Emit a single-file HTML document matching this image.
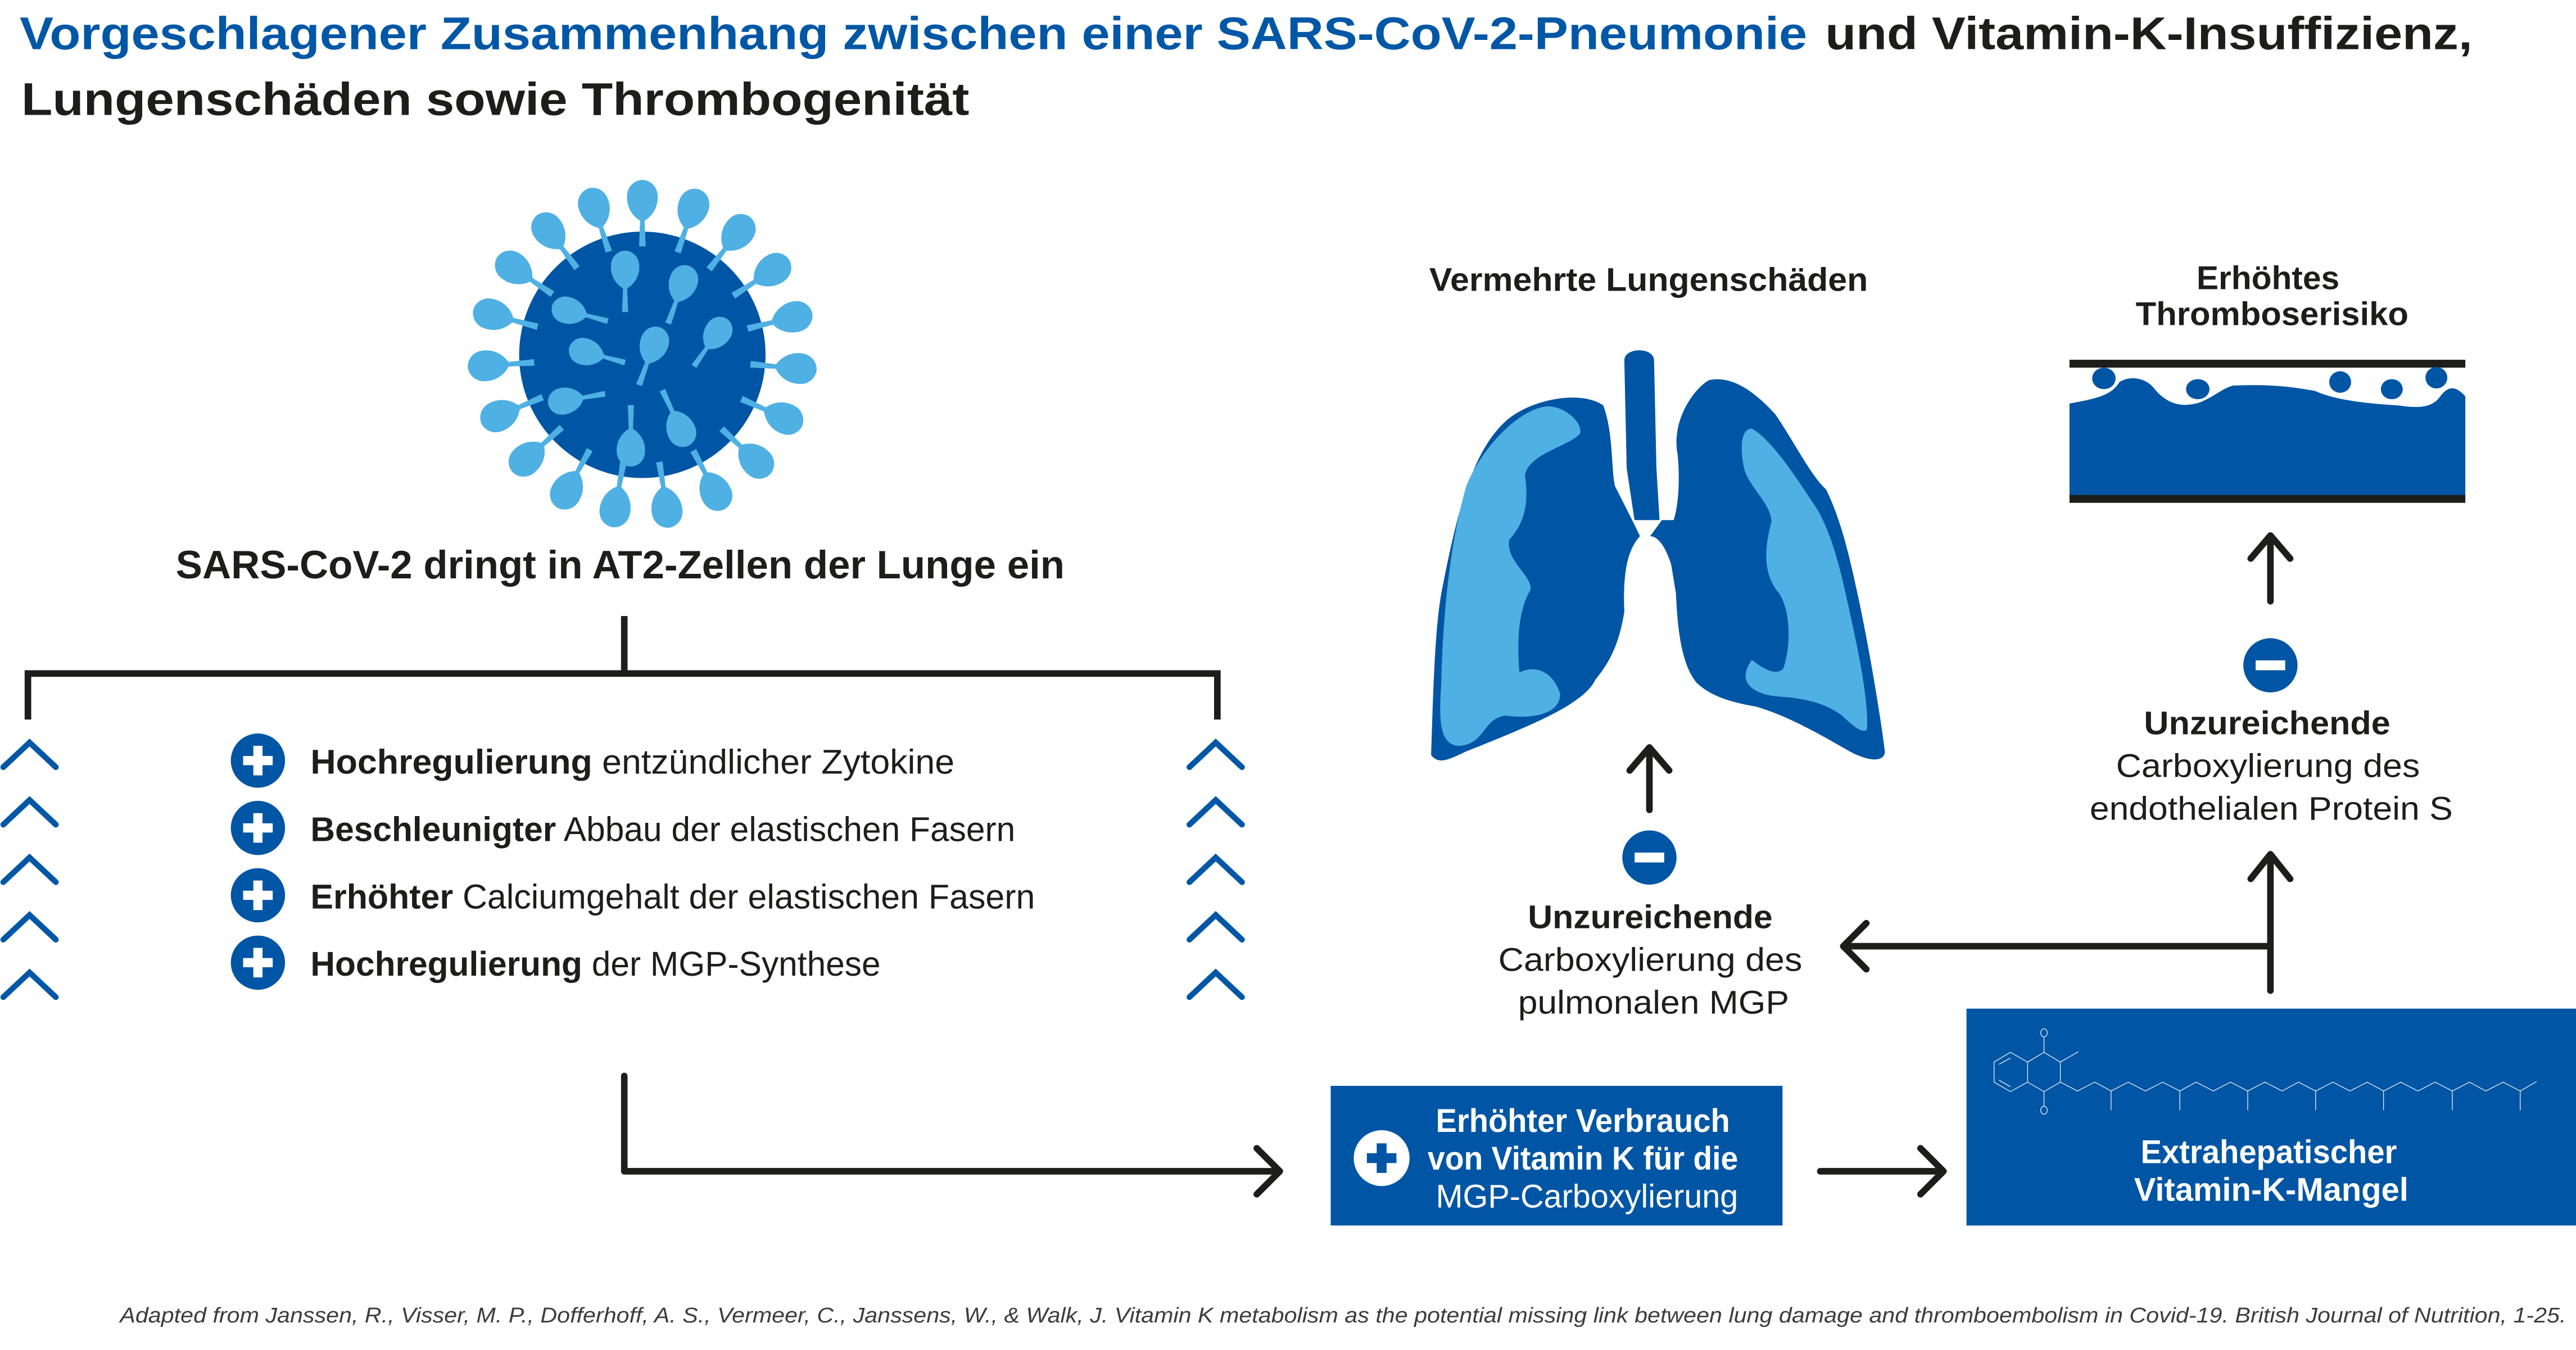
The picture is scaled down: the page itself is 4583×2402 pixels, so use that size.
<!DOCTYPE html>
<html><head><meta charset="utf-8"><style>
html,body{margin:0;padding:0;background:#fff;}
svg{display:block;}
text{font-family:"Liberation Sans",sans-serif;}
</style></head><body>
<svg width="4583" height="2402" viewBox="0 0 1568 821.8" preserveAspectRatio="none" xmlns="http://www.w3.org/2000/svg">
<defs>
<path id="sp" d="M-2.2,0 L-1.5,-17 C-8,-21 -11,-28 -10,-35 C-9,-41 -4,-44 0,-44 C4,-44 9,-41 10,-35 C11,-28 8,-21 1.5,-17 L2.2,0 Z" fill="#4fb0e4"/>
<g id="plus"><rect x="-2.8" y="-9" width="5.6" height="18" fill="#fff"/><rect x="-9" y="-2.8" width="18" height="5.6" fill="#fff"/></g>
</defs>
<rect width="1568" height="821.8" fill="#fff"/>

<text x="12" y="30" font-size="28" font-weight="bold" fill="#0057a6" textLength="1088" lengthAdjust="spacingAndGlyphs">Vorgeschlagener Zusammenhang zwischen einer SARS-CoV-2-Pneumonie</text>
<text x="1111" y="30" font-size="28" font-weight="bold" fill="#1d1d1b" textLength="394" lengthAdjust="spacingAndGlyphs">und Vitamin-K-Insuffizienz,</text>
<text x="13" y="70" font-size="28" font-weight="bold" fill="#1d1d1b" textLength="577" lengthAdjust="spacingAndGlyphs">Lungenschäden sowie Thrombogenität</text>

<g id="virus">
<circle cx="391" cy="216" r="75" fill="#0055a4"/>
<g transform="translate(391,216)">
<g transform="rotate(0) translate(0,-66) scale(0.92)"><use href="#sp"/></g>
<g transform="rotate(19) translate(0,-66) scale(0.92)"><use href="#sp"/></g>
<g transform="rotate(38) translate(0,-66) scale(0.92)"><use href="#sp"/></g>
<g transform="rotate(57) translate(0,-66) scale(0.92)"><use href="#sp"/></g>
<g transform="rotate(76) translate(0,-66) scale(0.92)"><use href="#sp"/></g>
<g transform="rotate(95) translate(0,-66) scale(0.92)"><use href="#sp"/></g>
<g transform="rotate(114) translate(0,-66) scale(0.92)"><use href="#sp"/></g>
<g transform="rotate(133) translate(0,-66) scale(0.92)"><use href="#sp"/></g>
<g transform="rotate(152) translate(0,-66) scale(0.92)"><use href="#sp"/></g>
<g transform="rotate(171) translate(0,-66) scale(0.92)"><use href="#sp"/></g>
<g transform="rotate(190) translate(0,-66) scale(0.92)"><use href="#sp"/></g>
<g transform="rotate(209) translate(0,-66) scale(0.92)"><use href="#sp"/></g>
<g transform="rotate(228) translate(0,-66) scale(0.92)"><use href="#sp"/></g>
<g transform="rotate(247) translate(0,-66) scale(0.92)"><use href="#sp"/></g>
<g transform="rotate(266) translate(0,-66) scale(0.92)"><use href="#sp"/></g>
<g transform="rotate(285) translate(0,-66) scale(0.92)"><use href="#sp"/></g>
<g transform="rotate(304) translate(0,-66) scale(0.92)"><use href="#sp"/></g>
<g transform="rotate(323) translate(0,-66) scale(0.92)"><use href="#sp"/></g>
<g transform="rotate(342) translate(0,-66) scale(0.92)"><use href="#sp"/></g>
</g>
<g transform="translate(380.5,190) rotate(0) scale(0.85)"><use href="#sp"/></g>
<g transform="translate(406.7,197) rotate(20) scale(0.85)"><use href="#sp"/></g>
<g transform="translate(370,195.5) rotate(-75) scale(0.8)"><use href="#sp"/></g>
<g transform="translate(380.5,220.7) rotate(-75) scale(0.8)"><use href="#sp"/></g>
<g transform="translate(389,234.4) rotate(20) scale(0.85)"><use href="#sp"/></g>
<g transform="translate(422.4,223) rotate(35) scale(0.8)"><use href="#sp"/></g>
<g transform="translate(368.3,239.7) rotate(-100) scale(0.8)"><use href="#sp"/></g>
<g transform="translate(384,246.6) rotate(180) scale(0.85)"><use href="#sp"/></g>
<g transform="translate(403.2,237.5) rotate(155) scale(0.85)"><use href="#sp"/></g>
</g>

<text x="107" y="352" font-size="24" font-weight="bold" fill="#1d1d1b" textLength="541" lengthAdjust="spacingAndGlyphs">SARS-CoV-2 dringt in AT2-Zellen der Lunge ein</text>

<g stroke="#1d1d1b" stroke-width="4" fill="none">
<path d="M380,375 V410 M17,438 V410 H741 V438"/>
</g>

<g stroke="#0057a6" stroke-width="3.5" fill="none" stroke-linecap="round">
<polyline points="2,467 18,452 34,467"/><polyline points="2,502 18,487 34,502"/><polyline points="2,537 18,522 34,537"/><polyline points="2,572 18,557 34,572"/><polyline points="2,607 18,592 34,607"/>
<polyline points="724,467 740,452 756,467"/><polyline points="724,502 740,487 756,502"/><polyline points="724,537 740,522 756,537"/><polyline points="724,572 740,557 756,572"/><polyline points="724,607 740,592 756,607"/>
</g>

<g>
<circle cx="157" cy="463" r="16.5" fill="#0055a4"/><use href="#plus" x="157" y="463"/>
<circle cx="157" cy="504" r="16.5" fill="#0055a4"/><use href="#plus" x="157" y="504"/>
<circle cx="157" cy="545" r="16.5" fill="#0055a4"/><use href="#plus" x="157" y="545"/>
<circle cx="157" cy="586" r="16.5" fill="#0055a4"/><use href="#plus" x="157" y="586"/>
</g>
<g font-size="21" fill="#1d1d1b">
<text x="189" y="471" textLength="392" lengthAdjust="spacingAndGlyphs"><tspan font-weight="bold">Hochregulierung</tspan> entzündlicher Zytokine</text>
<text x="189" y="512" textLength="429" lengthAdjust="spacingAndGlyphs"><tspan font-weight="bold">Beschleunigter</tspan> Abbau der elastischen Fasern</text>
<text x="189" y="553" textLength="441" lengthAdjust="spacingAndGlyphs"><tspan font-weight="bold">Erhöhter</tspan> Calciumgehalt der elastischen Fasern</text>
<text x="189" y="594" textLength="347" lengthAdjust="spacingAndGlyphs"><tspan font-weight="bold">Hochregulierung</tspan> der MGP-Synthese</text>
</g>

<text x="870" y="177" font-size="20" font-weight="bold" fill="#1d1d1b" textLength="267" lengthAdjust="spacingAndGlyphs">Vermehrte Lungenschäden</text>
<g transform="translate(821.1,153.95) scale(0.4762,0.2183)">
<path fill="#0055a4" d="M325,425 C338,500 335,600 340,650 L362,745 L372,790 C355,830 350,900 352,1000 C345,1100 330,1150 315,1190 C300,1260 230,1320 150,1390 C130,1410 115,1430 105,1400 C108,1200 110,1050 118,950 C140,700 160,550 200,470 C230,410 295,380 325,425 Z"/>
<path fill="#0055a4" d="M420,560 C412,470 440,380 460,355 C490,340 520,390 545,450 C570,530 590,620 610,660 C630,750 640,850 650,950 C665,1100 680,1300 685,1390 C685,1420 665,1420 640,1390 C600,1340 560,1290 520,1265 C480,1250 460,1230 445,1200 C425,1150 420,1050 418,950 L412,870 C405,820 395,790 385,790 L400,745 L415,745 C422,700 423,620 420,560 Z"/>
<path fill="#0055a4" d="M352,300 C352,262 390,262 390,300 L393,600 L397,745 L365,745 L355,600 Z"/>
<path fill="#4fb0e4" d="M255,428 C280,430 300,480 295,505 C280,540 230,560 225,620 C230,700 225,750 205,800 C200,860 235,900 232,940 C215,1000 215,1100 218,1170 C235,1150 260,1160 270,1230 C270,1290 230,1300 200,1290 C170,1300 175,1370 140,1375 C115,1370 115,1300 118,1200 C120,1000 130,800 150,650 C170,540 220,430 255,428 Z"/>
<path fill="#4fb0e4" d="M515,490 C540,520 570,620 600,720 C620,800 630,900 640,1000 C650,1100 665,1250 662,1330 C655,1340 645,1320 630,1290 C600,1240 560,1240 540,1235 C505,1220 500,1180 515,1135 C530,1160 545,1180 555,1160 C565,1100 565,1000 550,950 C530,900 530,830 540,750 C540,700 510,650 505,600 C500,550 500,490 515,490 Z"/>
<rect x="921" y="298" width="506" height="22" fill="#1d1d1b"/>
<path fill="#0055a4" d="M921,420 C960,405 975,395 985,360 C1000,340 1020,350 1030,380 C1045,420 1065,435 1090,415 C1110,395 1115,380 1130,370 C1180,365 1210,375 1235,385 C1260,410 1300,420 1340,425 C1370,435 1385,430 1395,400 C1405,370 1415,370 1427,400 L1427,676 L921,676 Z"/>
<ellipse cx="965" cy="350" rx="15" ry="30" fill="#0055a4"/>
<ellipse cx="1085" cy="380" rx="15" ry="28" fill="#0055a4"/>
<ellipse cx="1267" cy="360" rx="14" ry="30" fill="#0055a4"/>
<ellipse cx="1333" cy="380" rx="14" ry="28" fill="#0055a4"/>
<ellipse cx="1390" cy="348" rx="14" ry="30" fill="#0055a4"/>
<rect x="921" y="675" width="506" height="22" fill="#1d1d1b"/>
</g>

<text x="1337" y="176" font-size="20" font-weight="bold" fill="#1d1d1b" textLength="87" lengthAdjust="spacingAndGlyphs">Erhöhtes</text>
<text x="1300" y="198" font-size="20" font-weight="bold" fill="#1d1d1b" textLength="166" lengthAdjust="spacingAndGlyphs">Thromboserisiko</text>

<g stroke="#1d1d1b" stroke-width="4" fill="none" stroke-linecap="round" stroke-linejoin="round">
<path d="M1382,366 V327 M1370,340 L1382,326 L1394,340"/>
<path d="M1004,493 V456 M992,469 L1004,455 L1016,469"/>
<path d="M1382,603 V521 M1370,535 L1382,520 L1394,535"/>
<path d="M1382,576 H1123 M1136,562 L1122,576 L1136,590"/>
<path d="M380,655 V713 H778 M765,699 L779,713 L765,727"/>
<path d="M1108,713 H1182 M1169,699 L1183,713 L1169,727"/>
</g>

<circle cx="1382" cy="405" r="16.5" fill="#0055a4"/><rect x="1373" y="402" width="18" height="6" fill="#fff"/>
<circle cx="1004" cy="522" r="16.5" fill="#0055a4"/><rect x="995" y="519" width="18" height="6" fill="#fff"/>

<g font-size="20" fill="#1d1d1b">
<text x="1305" y="447" font-weight="bold" textLength="150" lengthAdjust="spacingAndGlyphs">Unzureichende</text>
<text x="1288" y="473" textLength="185" lengthAdjust="spacingAndGlyphs">Carboxylierung des</text>
<text x="1272" y="499" textLength="221" lengthAdjust="spacingAndGlyphs">endothelialen Protein S</text>
<text x="930" y="565" font-weight="bold" textLength="149" lengthAdjust="spacingAndGlyphs">Unzureichende</text>
<text x="912" y="591" textLength="185" lengthAdjust="spacingAndGlyphs">Carboxylierung des</text>
<text x="924" y="617" textLength="165" lengthAdjust="spacingAndGlyphs">pulmonalen MGP</text>
</g>

<rect x="810" y="661" width="275" height="85" fill="#0055a4"/>
<circle cx="841" cy="705" r="17" fill="#fff"/>
<rect x="838" y="696" width="6" height="18" fill="#0055a4"/><rect x="832" y="702" width="18" height="6" fill="#0055a4"/>
<g font-size="20" fill="#fff">
<text x="874" y="689" font-weight="bold" textLength="179" lengthAdjust="spacingAndGlyphs">Erhöhter Verbrauch</text>
<text x="869" y="712" font-weight="bold" textLength="189" lengthAdjust="spacingAndGlyphs">von Vitamin K für die</text>
<text x="874" y="735" textLength="184" lengthAdjust="spacingAndGlyphs">MGP-Carboxylierung</text>
</g>

<rect x="1197" y="614" width="371" height="132" fill="#0055a4"/>
<g transform="translate(786.9,496.1) scale(0.4981,0.1745)" stroke="#fff" fill="none" stroke-width="1.2">
<path vector-effect="non-scaling-stroke" d="M877,828 L898,862 L898,932 L877,965 L857,932 L857,862 Z M918,828 L938,862 L938,932 L918,965 L898,932 M898,862 L918,828 M918,828 V775 M918,965 V1015 M938,862 L960,826 M863,870 L877,848 M863,925 L877,948"/>
<ellipse vector-effect="non-scaling-stroke" cx="918" cy="760" rx="4" ry="14"/>
<ellipse vector-effect="non-scaling-stroke" cx="918" cy="1030" rx="4" ry="14"/>
<polyline vector-effect="non-scaling-stroke" points="938,932 959,963 980,932 1000,963 1021,932 1042,963 1063,932 1084,963 1104,932 1125,963 1146,932 1167,963 1188,932 1209,963 1229,932 1250,963 1271,932 1292,963 1313,932 1333,963 1354,932 1375,963 1396,932 1417,963 1438,932 1458,963 1479,932 1500,963 1520,930"/>
<path vector-effect="non-scaling-stroke" d="M1000,963 V1030 M1084,963 V1030 M1167,963 V1030 M1250,963 V1030 M1333,963 V1030 M1417,963 V1030 M1500,963 V1030"/>
</g>
<g font-size="20" fill="#fff" font-weight="bold">
<text x="1303" y="708" textLength="156" lengthAdjust="spacingAndGlyphs">Extrahepatischer</text>
<text x="1299" y="731" textLength="167" lengthAdjust="spacingAndGlyphs">Vitamin-K-Mangel</text>
</g>

<text x="73" y="805" font-size="13" font-style="italic" fill="#3c3c3b" textLength="1489" lengthAdjust="spacingAndGlyphs">Adapted from Janssen, R., Visser, M. P., Dofferhoff, A. S., Vermeer, C., Janssens, W., &amp; Walk, J. Vitamin K metabolism as the potential missing link between lung damage and thromboembolism in Covid-19. British Journal of Nutrition, 1-25.</text>
</svg>
</body></html>
